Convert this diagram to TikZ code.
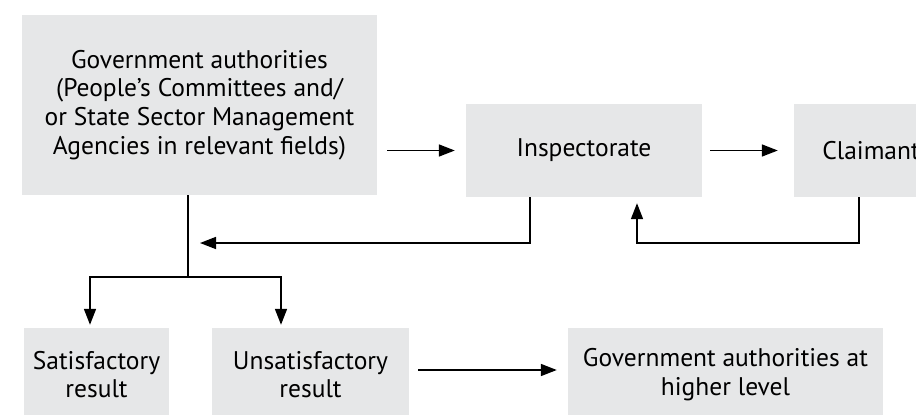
\documentclass[tikz,border=0pt]{standalone}
\usepackage{fontspec}
\setmainfont{PT Sans}
\usetikzlibrary{arrows.meta}

\begin{document}
\begin{tikzpicture}[x=1pt,y=-1pt,
	box/.style={fill=boxgray,align=center,inner sep=0pt,
		font=\fontsize{25.5}{28.7}\selectfont},
	arr/.style={-{Triangle[length=16pt,width=12pt]},line width=1.6pt},
	ln/.style={line width=1.6pt}]
	\definecolor{boxgray}{HTML}{E6E7E8}
	\useasboundingbox (0,0) rectangle (916,415);
	\clip (0,0) rectangle (916,415);
	% Nodes
	\node[box,minimum width=355pt,minimum height=180pt] (gov) at (199.5,105) {Government authorities\\(People’s Committees and/\\or State Sector Management\\Agencies in relevant fields)};
	\node[box,minimum width=236pt,minimum height=93pt] (insp) at (584,150.5) {Inspectorate};
	\node[box,minimum width=154pt,minimum height=93pt] (claim) at (871,150.5) {Claimant};
	\node[box,minimum width=145pt,minimum height=93pt] (sat) at (96.5,374.5) {Satisfactory\\result};
	\node[box,minimum width=197pt,minimum height=93pt] (unsat) at (310.5,374.5) {Unsatisfactory\\result};
	\node[box,minimum width=315pt,minimum height=93pt] (high) at (725.5,374.5) {Government authorities at\\higher level};
	\coordinate (split) at (188,277);
	\coordinate (back) at (200,243);
	% Edges
	\draw[arr,shorten <=10pt,shorten >=11pt] (gov.east |- insp.west) -- (insp.west);
	\draw[arr,shorten <=8pt,shorten >=16pt] (insp.east) -- (claim.west);
	\draw[arr] ([xshift=-54pt]insp.south) |- (back);
	\draw[arr,shorten >=6pt] ([xshift=-12pt]claim.south) -- ++(0,46) -| ([xshift=53pt]insp.south);
	\draw[ln] (gov.south -| split) -- (split);
	\draw[arr,shorten >=3pt] (split) -| ([xshift=-6.5pt]sat.north);
	\draw[arr,shorten >=3pt] (split) -| ([xshift=-29.5pt]unsat.north);
	\draw[arr,shorten <=9pt,shorten >=11pt] ([yshift=4.5pt]unsat.east) -- ([yshift=4.5pt]high.west);
\end{tikzpicture}
\end{document}
